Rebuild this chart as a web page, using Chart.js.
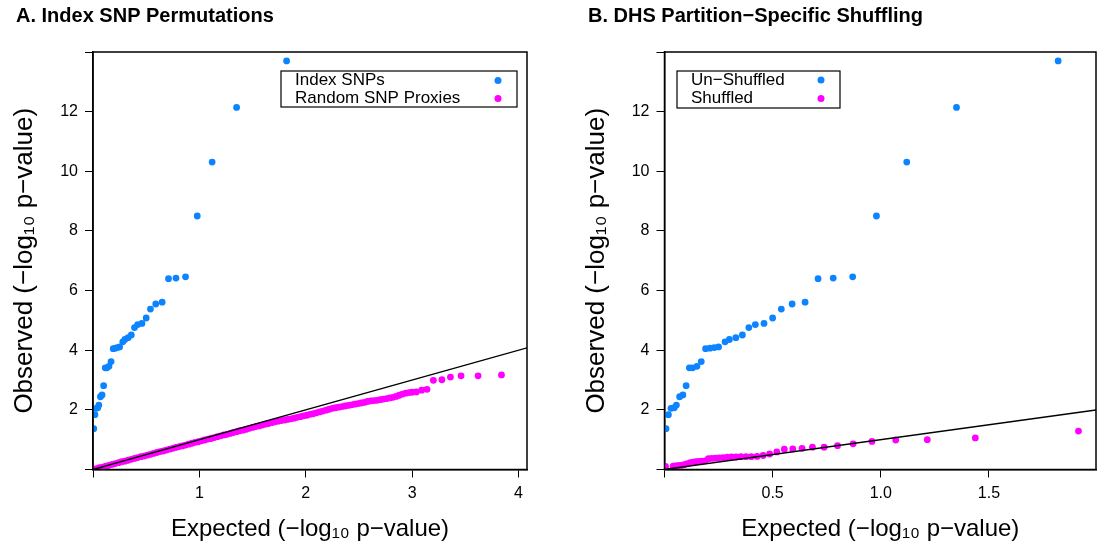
<!DOCTYPE html>
<html><head><meta charset="utf-8">
<script src="https://cdn.jsdelivr.net/npm/chart.js@4.4.1/dist/chart.umd.min.js"></script>
<style>
html,body{margin:0;padding:0;background:#fff;}
#wrap{position:relative;width:1100px;height:552px;overflow:hidden;background:#fff;}
.panel{position:absolute;top:0;height:552px;}
#pA{left:0;width:550px;}
#pB{left:572px;width:528px;}
</style></head><body>
<div id="wrap">
<div class="panel" id="pA"><canvas id="cA"></canvas></div>
<div class="panel" id="pB"><canvas id="cB"></canvas></div>
</div>
<script>
// ---- Panel titles / legend labels ----
const titleA = "A. Index SNP Permutations";
const titleB = "B. DHS Partition\u2212Specific Shuffling";
const xAxisTitle = "Expected (\u2212log\u2081\u2080 p\u2212value)";
const yAxisTitle = "Observed (\u2212log\u2081\u2080 p\u2212value)";
const legendA = ["Index SNPs", "Random SNP Proxies"];
const legendB = ["Un\u2212Shuffled", "Shuffled"];

// ---- Tick labels ----
const yTickLabels = [2, 4, 6, 8, 10, 12];
const xTickLabelsA = [1, 2, 3, 4];
const xTickLabelsB = [0.5, 1.0, 1.5];

// ---- Axis ranges ----
const xRangeA = [0, 4.08];
const xRangeB = [0, 1.995];
const yRange = [0, 14];

// ---- Index SNPs (also the un-shuffled series in panel B) ----
const indexExpected = [1.82, 1.35, 1.12, 0.98, 0.87, 0.78, 0.71, 0.65, 0.59, 0.54, 0.50, 0.46, 0.42, 0.39, 0.36, 0.33, 0.30, 0.28, 0.25, 0.23, 0.21, 0.19, 0.17, 0.15, 0.13, 0.115, 0.10, 0.085, 0.07, 0.055, 0.045, 0.03, 0.018, 0.007];
const indexObserved = [13.70, 12.14, 10.31, 8.50, 6.46, 6.42, 6.40, 5.61, 5.55, 5.38, 5.08, 4.90, 4.86, 4.76, 4.51, 4.42, 4.36, 4.28, 4.11, 4.09, 4.07, 4.05, 3.62, 3.46, 3.41, 3.41, 2.81, 2.50, 2.44, 2.16, 2.07, 2.05, 1.84, 1.37];

// ---- Random SNP proxies (panel A) ----
const proxyExpected = [0.00, 0.03, 0.06, 0.09, 0.12, 0.15, 0.18, 0.21, 0.24, 0.27, 0.30, 0.33, 0.36, 0.39, 0.42, 0.45, 0.48, 0.51, 0.54, 0.57, 0.60, 0.63, 0.66, 0.69, 0.72, 0.75, 0.78, 0.81, 0.84, 0.87, 0.90, 0.93, 0.96, 0.99, 1.02, 1.05, 1.08, 1.11, 1.14, 1.17, 1.20, 1.23, 1.26, 1.29, 1.32, 1.35, 1.38, 1.41, 1.44, 1.47, 1.50, 1.53, 1.56, 1.59, 1.62, 1.65, 1.68, 1.71, 1.74, 1.77, 1.80, 1.83, 1.86, 1.89, 1.92, 1.95, 1.98, 2.01, 2.04, 2.07, 2.10, 2.13, 2.16, 2.19, 2.22, 2.25, 2.28, 2.31, 2.34, 2.37, 2.40, 2.43, 2.46, 2.49, 2.52, 2.55, 2.58, 2.61, 2.64, 2.67, 2.70, 2.73, 2.76, 2.79, 2.82, 2.85, 2.88, 2.91, 2.94, 2.97, 3.00, 3.04, 3.09, 3.14, 3.20, 3.28, 3.36, 3.46, 3.62, 3.84];
const proxyObserved = [0.01, 0.03, 0.06, 0.08, 0.11, 0.14, 0.17, 0.20, 0.23, 0.26, 0.28, 0.31, 0.34, 0.37, 0.40, 0.43, 0.45, 0.48, 0.51, 0.54, 0.57, 0.60, 0.62, 0.65, 0.68, 0.71, 0.74, 0.77, 0.79, 0.82, 0.85, 0.88, 0.91, 0.93, 0.96, 0.99, 1.02, 1.04, 1.07, 1.10, 1.13, 1.16, 1.18, 1.21, 1.24, 1.27, 1.30, 1.32, 1.35, 1.38, 1.41, 1.44, 1.46, 1.49, 1.52, 1.54, 1.57, 1.60, 1.62, 1.64, 1.66, 1.68, 1.70, 1.72, 1.75, 1.77, 1.80, 1.82, 1.85, 1.87, 1.90, 1.93, 1.96, 1.99, 2.02, 2.05, 2.07, 2.09, 2.11, 2.13, 2.15, 2.17, 2.19, 2.21, 2.23, 2.25, 2.28, 2.30, 2.31, 2.32, 2.34, 2.36, 2.38, 2.40, 2.42, 2.45, 2.49, 2.53, 2.56, 2.58, 2.59, 2.60, 2.66, 2.69, 2.99, 3.01, 3.10, 3.14, 3.14, 3.17];

// ---- Shuffled (panel B) ----
const shuffledExpected = [1.914, 1.437, 1.215, 1.069, 0.959, 0.872, 0.800, 0.738, 0.684, 0.636, 0.593, 0.554, 0.519, 0.486, 0.456, 0.428, 0.401, 0.377, 0.353, 0.331, 0.310, 0.290, 0.271, 0.253, 0.236, 0.219, 0.203, 0.188, 0.173, 0.159, 0.145, 0.132, 0.119, 0.107, 0.095, 0.083, 0.072, 0.061, 0.050, 0.040, 0.005];
const shuffledObserved = [1.29, 1.06, 1.00, 0.99, 0.94, 0.86, 0.80, 0.75, 0.75, 0.71, 0.69, 0.68, 0.59, 0.52, 0.47, 0.44, 0.43, 0.43, 0.43, 0.42, 0.42, 0.41, 0.40, 0.39, 0.38, 0.37, 0.36, 0.29, 0.28, 0.27, 0.26, 0.25, 0.23, 0.20, 0.17, 0.15, 0.14, 0.13, 0.12, 0.11, 0.10];

const BLUE = '#0d84ff';
const MAGENTA = '#ff00ff';
const FONT = "'Liberation Sans', Arial, Helvetica, sans-serif";

function pts(xs, ys) { return xs.map((x, i) => ({x: x, y: ys[i]})); }

const frameBox = {
  id: 'frameBox',
  afterDraw(chart) {
    const a = chart.chartArea, ctx = chart.ctx;
    ctx.save();
    ctx.strokeStyle = '#000';
    ctx.lineWidth = 1.5;
    ctx.strokeRect(a.left, a.top, a.right - a.left, a.bottom - a.top);
    ctx.restore();
  }
};

const boxLegend = {
  id: 'boxLegend',
  afterDraw(chart, args, o) {
    if (!o || !o.box) return;
    const ctx = chart.ctx, b = o.box;
    ctx.save();
    ctx.fillStyle = '#fff';
    ctx.fillRect(b.x, b.y, b.w, b.h);
    ctx.strokeStyle = '#000';
    ctx.lineWidth = 1.2;
    ctx.strokeRect(b.x, b.y, b.w, b.h);
    ctx.font = o.font;
    ctx.textBaseline = 'middle';
    ctx.textAlign = 'left';
    const items = chart.data.datasets.filter(d => d.legendRank !== undefined)
      .sort((p, q) => p.legendRank - q.legendRank);
    items.forEach((d, i) => {
      const yy = b.y + o.rows[i];
      ctx.fillStyle = '#000';
      ctx.fillText(d.label, b.x + o.textX, yy);
      ctx.fillStyle = d.backgroundColor;
      ctx.beginPath();
      ctx.arc(b.x + o.dotX, yy, 3.5, 0, Math.PI * 2);
      ctx.fill();
    });
    ctx.restore();
  }
};

function makeChart(canvasId, cfg) {
  const area = cfg.area; // desired chartArea in canvas px
  return new Chart(document.getElementById(canvasId), {
    type: 'scatter',
    data: {
      datasets: [
        { type: 'line', label: 'y=x', data: [{x: cfg.xr[0], y: cfg.xr[0]}, {x: cfg.xr[1], y: cfg.xr[1]}],
          borderColor: '#000', borderWidth: 1.4, pointRadius: 0, fill: false, order: 0 },
        { label: cfg.legend[1], data: cfg.magenta, backgroundColor: MAGENTA, borderWidth: 0,
          pointRadius: 3.4, order: 1, legendRank: 1 },
        { label: cfg.legend[0], data: cfg.blue, backgroundColor: BLUE, borderWidth: 0,
          pointRadius: 3.4, order: 2, legendRank: 0 }
      ]
    },
    options: {
      responsive: true, maintainAspectRatio: false, animation: false, events: [],
      layout: { padding: { left: area.padL, right: area.padR, top: 0, bottom: 0 } },
      plugins: {
        legend: { display: false },
        tooltip: { enabled: false },
        title: { display: true, text: cfg.title, align: 'start', color: '#000',
                 font: { family: FONT, size: 20, weight: 'bold', lineHeight: 1.2 },
                 padding: { top: 4, bottom: area.top - 28 } },
        boxLegend: cfg.legendOpts
      },
      scales: {
        x: {
          type: 'linear', min: cfg.xr[0], max: cfg.xr[1],
          afterFit(s) { s.height = 552 - area.bottom; },
          border: { display: true, color: '#000', width: 1.5 },
          grid: { display: true, drawOnChartArea: false, drawTicks: true, tickLength: 8, color: '#000', lineWidth: 1 },
          ticks: { stepSize: cfg.step, includeBounds: false, padding: 6, color: '#000', maxRotation: 0, autoSkip: false,
                   font: { family: FONT, size: 16 },
                   callback: v => (cfg.xLabels.some(t => Math.abs(t - v) < 1e-9) ? cfg.fmt(v) : '') },
          title: { display: true, text: xAxisTitle, color: '#000', font: { family: FONT, size: 24, lineHeight: 1.2 },
                   padding: { top: 0, bottom: 8 } }
        },
        y: {
          type: 'linear', min: yRange[0], max: yRange[1],
          afterFit(s) { s.width = area.left - area.padL; },
          border: { display: true, color: '#000', width: 1.5 },
          grid: { display: true, drawOnChartArea: false, drawTicks: true, tickLength: 8, color: '#000', lineWidth: 1 },
          ticks: { stepSize: 2, includeBounds: false, padding: 7, color: '#000', autoSkip: false,
                   font: { family: FONT, size: 16 },
                   callback: v => (yTickLabels.includes(v) ? String(v) : '') },
          title: { display: true, text: yAxisTitle, color: '#000', font: { family: FONT, size: 26, lineHeight: 0.7 },
                   padding: { top: 0, bottom: 0 } }
        }
      }
    },
    plugins: [frameBox, boxLegend]
  });
}

makeChart('cA', {
  title: titleA, legend: legendA, xr: xRangeA, step: 1, xLabels: xTickLabelsA, fmt: v => String(v),
  blue: pts(indexExpected, indexObserved), magenta: pts(proxyExpected, proxyObserved),
  area: { padL: 16, padR: 23, left: 93, top: 52, bottom: 469.5 },
  legendOpts: { box: { x: 281, y: 71, w: 236, h: 36 }, rows: [9.5, 27.5], textX: 14, dotX: 217,
                font: "17px 'Liberation Sans', Arial, sans-serif" }
});

makeChart('cB', {
  title: titleB, legend: legendB, xr: xRangeB, step: 0.5, xLabels: xTickLabelsB, fmt: v => v.toFixed(1),
  blue: pts(indexExpected, indexObserved), magenta: pts(shuffledExpected, shuffledObserved),
  area: { padL: 16, padR: 2, left: 92.5, top: 52, bottom: 469.5 },
  legendOpts: { box: { x: 105, y: 71, w: 163, h: 37 }, rows: [9, 27.5], textX: 14, dotX: 144,
                font: "17px 'Liberation Sans', Arial, sans-serif" }
});
</script>
</body></html>
